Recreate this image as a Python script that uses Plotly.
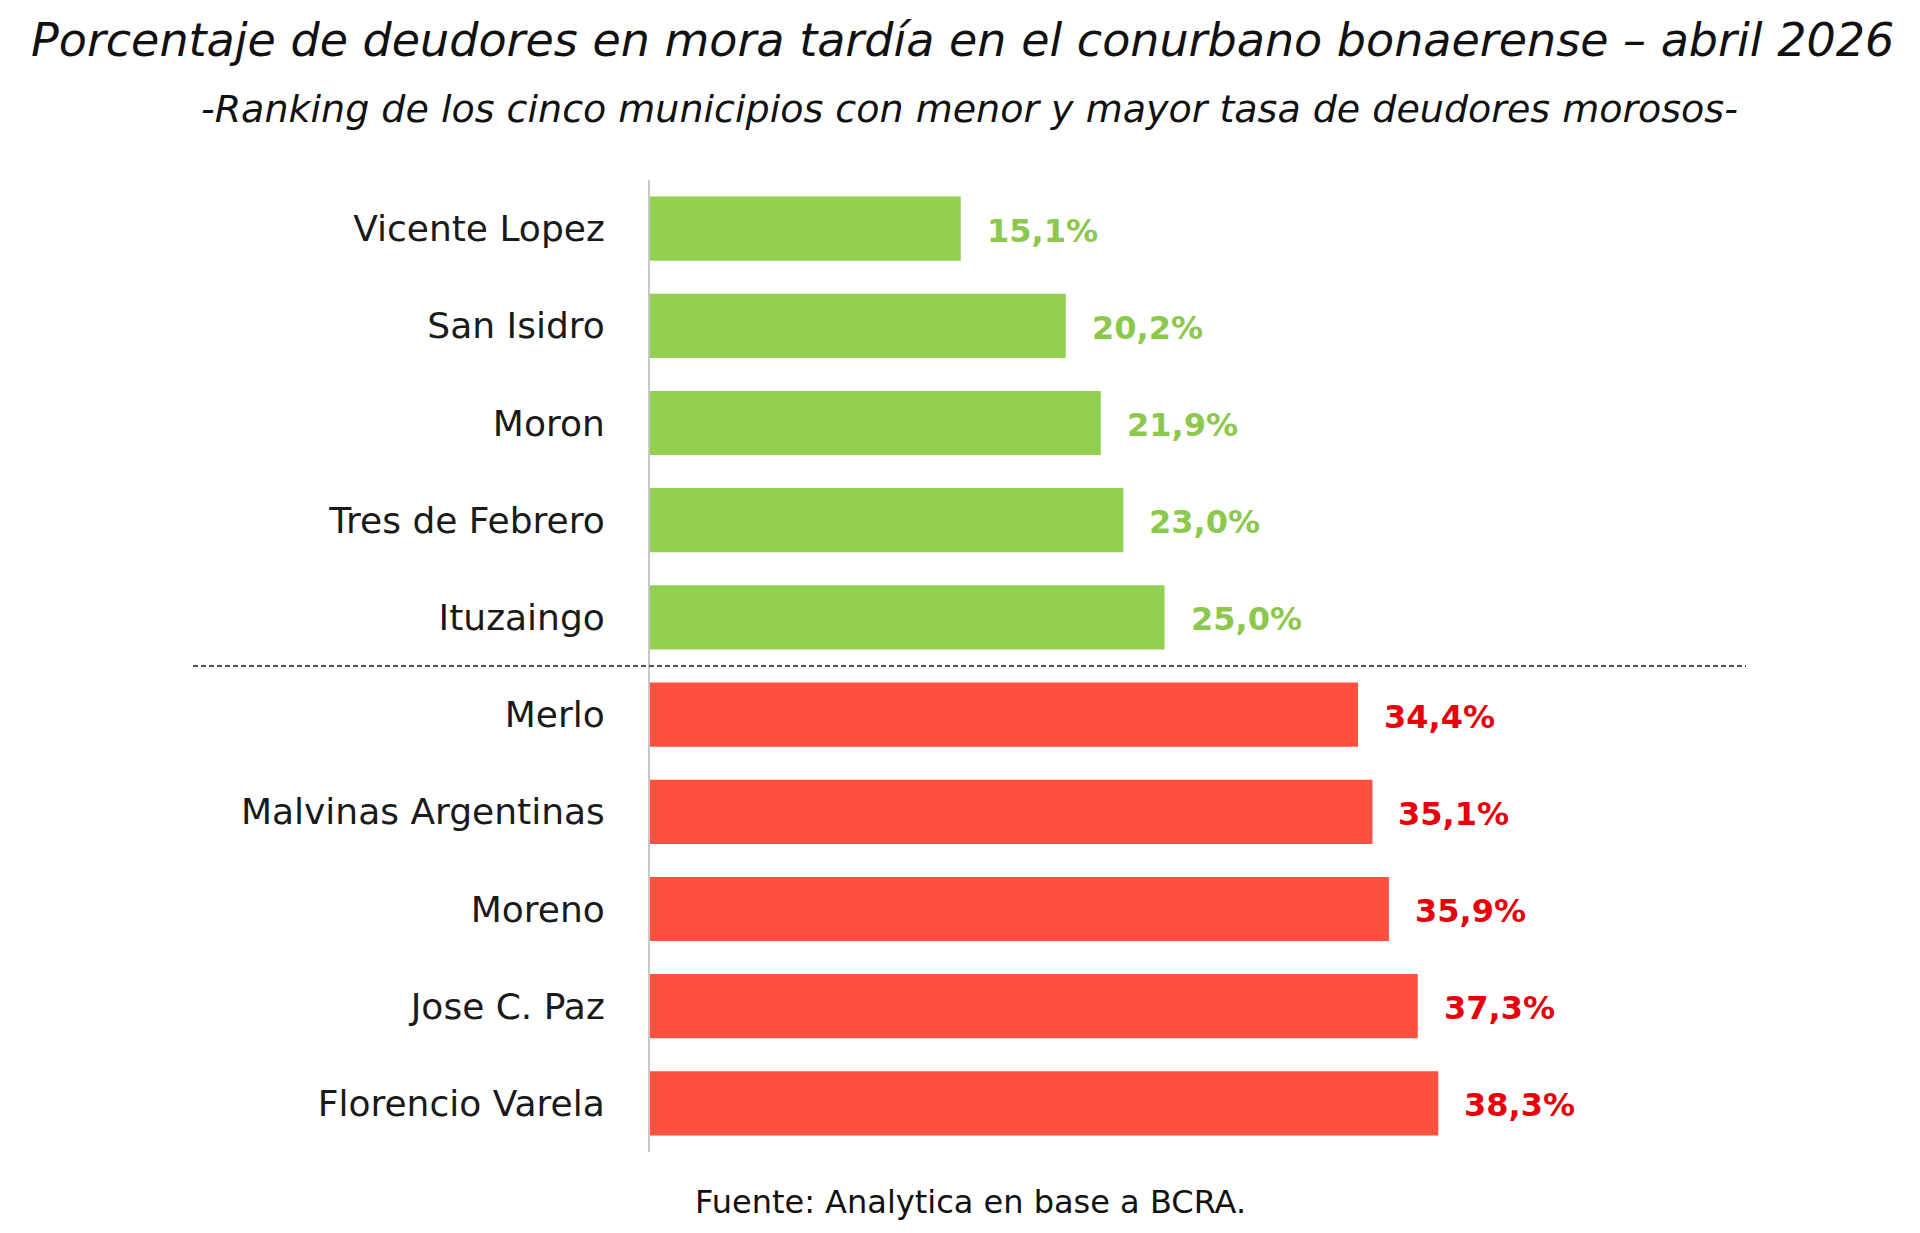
import plotly.graph_objects as go

municipios = ["Vicente Lopez", "San Isidro", "Moron", "Tres de Febrero", "Ituzaingo",
              "Merlo", "Malvinas Argentinas", "Moreno", "Jose C. Paz", "Florencio Varela"]
tasas = [15.1, 20.2, 21.9, 23.0, 25.0, 34.4, 35.1, 35.9, 37.3, 38.3]
grupo = ["menor"] * 5 + ["mayor"] * 5

BAR_COL = {"menor": "#92D050", "mayor": "#FF5040"}
TXT_COL = {"menor": "#8CC84B", "mayor": "#E8000B"}
FONT = "DejaVu Sans"

fig = go.Figure()
fig.add_trace(go.Bar(
    y=municipios, x=tasas, orientation="h",
    marker=dict(color=[BAR_COL[g] for g in grupo], line=dict(width=0)),
    hoverinfo="skip",
))

for m, v, g in zip(municipios, tasas, grupo):
    fig.add_annotation(
        x=v, y=m, xref="x", yref="y", text=f"<b>{v:.1f}%</b>".replace(".", ","),
        showarrow=False, xanchor="left", yanchor="middle", xshift=24, yshift=-2,
        font=dict(family=FONT, size=32, color=TXT_COL[g]),
    )

W, H = 1920, 1233
L, R, T, B = 650, 175, 180, 81
PW, PH = W - L - R, H - T - B

# dashed separator between the two groups
fig.add_shape(type="line", xref="paper", yref="y",
              x0=(193 - L) / PW, x1=(1746 - L) / PW, y0=4.5, y1=4.5,
              line=dict(color="#555555", width=2, dash="5px,3px"))

fig.update_layout(
    width=W, height=H,
    margin=dict(l=L, r=R, t=T, b=B),
    paper_bgcolor="white", plot_bgcolor="white",
    bargap=0.34, showlegend=False,
    xaxis=dict(range=[0, 53.2], visible=False, fixedrange=True),
    yaxis=dict(autorange="reversed", showline=True, linecolor="#C8C8C8", linewidth=2,
               ticks="", ticklabelstandoff=36, showgrid=False,
               tickfont=dict(family=FONT, size=36, color="#1A1A1A")),
)

# Titles and source as paper-level text
fig.add_annotation(xref="paper", yref="paper", x=(962 - L) / PW, xanchor="center",
                   y=1 + (T - 40) / PH, yanchor="middle",
                   text="<i>Porcentaje de deudores en mora tardía en el conurbano bonaerense – abril 2026</i>",
                   showarrow=False, font=dict(family=FONT, size=46, color="#111111"))
fig.add_annotation(xref="paper", yref="paper", x=(969 - L) / PW, xanchor="center",
                   y=1 + (T - 109) / PH, yanchor="middle",
                   text="<i>-Ranking de los cinco municipios con menor y mayor tasa de deudores morosos-</i>",
                   showarrow=False, font=dict(family=FONT, size=38, color="#111111"))
fig.add_annotation(xref="paper", yref="paper", x=(970 - L) / PW, xanchor="center",
                   y=-(1202 - (H - B)) / PH, yanchor="middle",
                   text="Fuente: Analytica en base a BCRA.",
                   showarrow=False, font=dict(family=FONT, size=32, color="#111111"))

fig.write_html("out.html")
